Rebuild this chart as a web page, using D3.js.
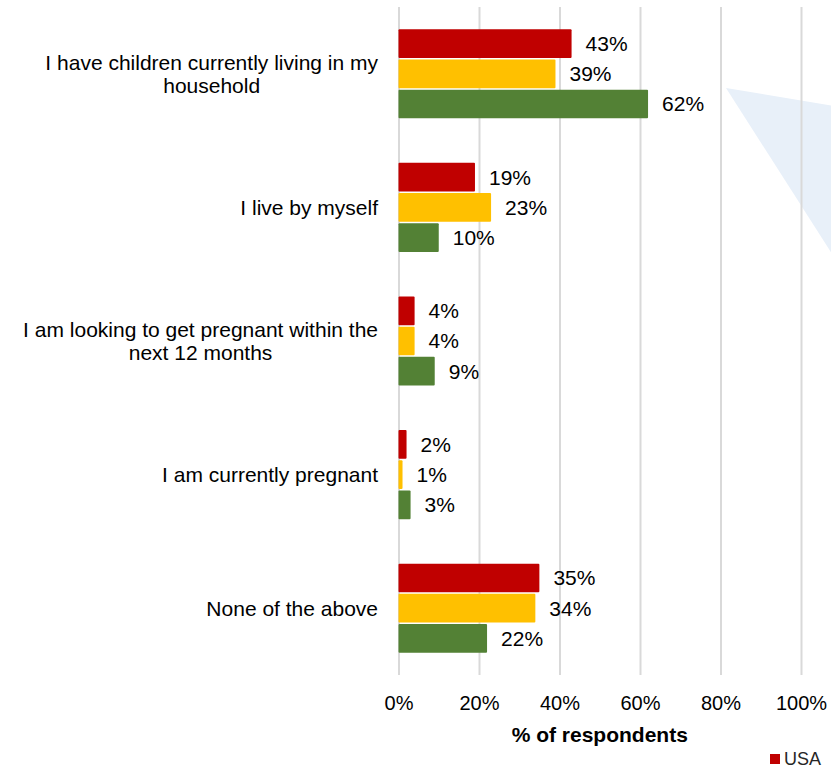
<!DOCTYPE html>
<html>
<head>
<meta charset="utf-8">
<script src="https://cdn.jsdelivr.net/npm/d3@7"></script>
<style>
  html, body { margin: 0; padding: 0; background: #fff; }
  svg { display: block; font-family: "Liberation Sans", Arial, sans-serif; }
</style>
</head>
<body>
<svg id="chart" width="831" height="771"></svg>
<script>
// Survey answers (one row of bars per statement)
const categories = [
  ["I have children currently living in my", "household"],
  ["I live by myself"],
  ["I am looking to get pregnant within the", "next 12 months"],
  ["I am currently pregnant"],
  ["None of the above"]
];
const seriesNames = ["USA", "Series 2", "Series 3"];
const seriesColors = ["#C00000", "#FFC000", "#538135"];

// % of respondents per statement, one array per series
const usaValues     = [43, 19, 4, 2, 35];
const series2Values = [39, 23, 4, 1, 34];
const series3Values = [62, 10, 9, 3, 22];
const seriesValues = [usaValues, series2Values, series3Values];

const tickValues = [0, 20, 40, 60, 80, 100];

const svg = d3.select("#chart");
const catKeys = categories.map(c => c.join(" "));

const x = d3.scaleLinear().domain([0, 100]).range([398.5, 801]);
const y0 = d3.scaleBand().domain(catKeys).range([7, 675]).padding(0);
const y1 = d3.scaleBand().domain(seriesNames)
  .range([21.5, y0.bandwidth() - 21.5])
  .paddingInner(0.05).paddingOuter(0.025);

// Decorative callout wedge behind the plot
svg.append("polygon")
  .attr("points", "726,88 900,117 900,360")
  .attr("fill", "#E8F0F9");

// Vertical gridlines
svg.append("g")
  .attr("transform", "translate(0,675)")
  .call(d3.axisBottom(x).tickValues(tickValues).tickSize(-668).tickFormat(""))
  .call(g => g.select(".domain").remove())
  .call(g => g.selectAll(".tick line").attr("stroke", "#D9D9D9").attr("stroke-width", 2));

// Tick labels
svg.append("g")
  .attr("transform", "translate(0,690)")
  .call(d3.axisBottom(x).tickValues(tickValues).tickSize(0).tickFormat(d => d + "%"))
  .call(g => g.select(".domain").remove())
  .call(g => g.selectAll(".tick text")
    .attr("font-size", 20).attr("fill", "#000")
    .attr("font-family", "Liberation Sans, Arial, sans-serif")
    .attr("dy", "0.35em").attr("y", 13));

// Axis title
svg.append("text")
  .attr("x", (x(0) + x(100)) / 2)
  .attr("y", 735)
  .attr("dy", "0.35em")
  .attr("text-anchor", "middle")
  .attr("font-size", 21)
  .attr("font-weight", "bold")
  .attr("fill", "#000")
  .text("% of respondents");

// Bars
const groups = svg.append("g").selectAll("g")
  .data(catKeys)
  .join("g")
  .attr("transform", d => `translate(0,${y0(d)})`);

const rows = (d, i) => seriesNames.map((s, k) => ({ series: s, k, value: seriesValues[k][i] }));

groups.each(function(d, i) {
  const g = d3.select(this);
  const data = rows(d, i);
  g.selectAll("rect")
    .data(data)
    .join("rect")
    .attr("x", x(0))
    .attr("y", r => y1(r.series))
    .attr("width", r => x(r.value) - x(0))
    .attr("height", y1.bandwidth())
    .attr("rx", 1)
    .attr("fill", r => seriesColors[r.k]);
  g.selectAll("text.val")
    .data(data)
    .join("text")
    .attr("class", "val")
    .attr("x", r => x(r.value) + 14)
    .attr("y", r => y1(r.series) + y1.bandwidth() / 2)
    .attr("dy", "0.35em")
    .attr("font-size", 21)
    .attr("fill", "#000")
    .text(r => r.value + "%");
});

// Category labels: right-aligned block, lines centred within it
const labelRight = 378;
const lineH = 23;
categories.forEach((lines, i) => {
  const cy = y0(catKeys[i]) + y0.bandwidth() / 2;
  const t = svg.append("text")
    .attr("font-size", 21)
    .attr("fill", "#000")
    .attr("text-anchor", "middle");
  lines.forEach((ln, j) => {
    t.append("tspan")
      .attr("y", cy + (j - (lines.length - 1) / 2) * lineH)
      .attr("dy", "0.35em")
      .text(ln);
  });
  // measure the widest line and shift so the block ends at labelRight
  const w = d3.max(t.selectAll("tspan").nodes(), n => n.getComputedTextLength());
  t.selectAll("tspan").attr("x", labelRight - w / 2);
});

// Legend
const legend = svg.append("g").attr("transform", "translate(770,754)");
legend.append("rect").attr("width", 10).attr("height", 10).attr("fill", seriesColors[0]);
legend.append("text")
  .attr("x", 14).attr("y", 5).attr("dy", "0.35em")
  .attr("font-size", 18).attr("fill", "#262626")
  .text(seriesNames[0]);
</script>
</body>
</html>
